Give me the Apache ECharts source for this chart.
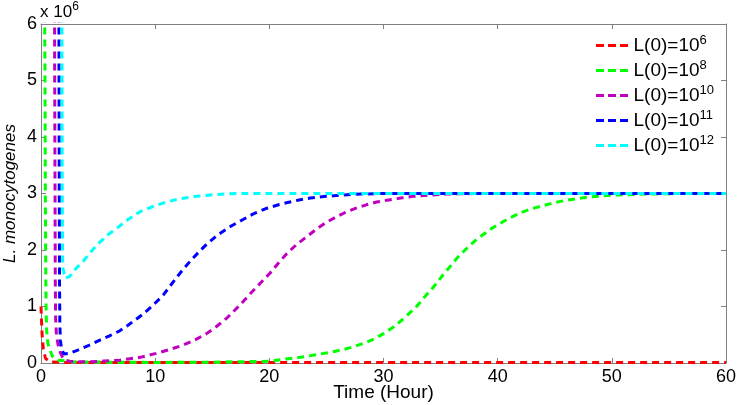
<!DOCTYPE html>
<html>
<head>
<meta charset="utf-8">
<script src="https://cdn.jsdelivr.net/npm/echarts@6/dist/echarts.min.js"></script>
<style>
  html, body { margin: 0; padding: 0; background: #fff; }
  #chart { width: 738px; height: 405px; }
</style>
</head>
<body>
<div id="chart"></div>
<script>
// values in units of 10^6, time in hours
const xTicks = [0, 10, 20, 30, 40, 50, 60]
const yTicks = [0, 1, 2, 3, 4, 5, 6]
const exponents = ['6', '8', '10', '11', '12']
const colors = ['#ff0000', '#00ff00', '#bf00bf', '#0000ff', '#00ffff']

// curves start far above the top of the axis (L(0) is 10^6..10^12), so only the part below 6 shows
const red = [[0, 1.0], [0.05, 0.72], [0.1, 0.5], [0.2, 0.25], [0.4, 0.08], [0.8, 0.02], [2, 0.01],
  [10, 0.01], [20, 0.01], [30, 0.01], [40, 0.01], [50, 0.01], [60, 0.01]]

const green = [[0.3, 7], [0.35, 5], [0.38, 3], [0.42, 1.5], [0.45, 0.9], [0.5, 0.55],
  [0.6, 0.35], [0.8, 0.22], [1, 0.12], [1.5, 0.05], [3, 0.02], [10, 0.01], [15, 0.015], [20, 0.03],
  [21.4, 0.07], [22.7, 0.1], [24.2, 0.15], [25.6, 0.2], [26.5, 0.24], [27.4, 0.29], [28.3, 0.35],
  [29.1, 0.42], [30, 0.52], [30.9, 0.64], [31.9, 0.81], [32.9, 1.0], [33.6, 1.17], [34.4, 1.35],
  [35.1, 1.53], [35.8, 1.7], [36.5, 1.87], [37.3, 2.03], [38, 2.16], [38.7, 2.27], [39.4, 2.37],
  [40.2, 2.47], [41, 2.56], [41.9, 2.65], [42.8, 2.72], [43.7, 2.77], [44.8, 2.83], [46, 2.88],
  [47, 2.91], [48, 2.94], [50, 2.97], [53, 2.99], [56, 3.0], [60, 3.0]]

const magenta = [[1.18, 7], [1.2, 5], [1.23, 3], [1.25, 1.5], [1.28, 0.8], [1.35, 0.5],
  [1.5, 0.32], [1.7, 0.18], [2, 0.06], [2.5, 0.03], [3.3, 0.02], [4.3, 0.02], [5.5, 0.035],
  [6.9, 0.05], [7.8, 0.075], [8.7, 0.1], [10.1, 0.17], [11.3, 0.24], [12.5, 0.32], [13.5, 0.41],
  [14.5, 0.52], [15.4, 0.65], [16.3, 0.8], [17.4, 1.02], [18.3, 1.22], [19.2, 1.41], [20.1, 1.6],
  [20.8, 1.77], [21.5, 1.93], [22.4, 2.1], [23.3, 2.24], [24.2, 2.38], [25, 2.49], [25.9, 2.59],
  [26.8, 2.68], [27.6, 2.74], [28.5, 2.8], [29.4, 2.85], [30.3, 2.88], [31.5, 2.92], [32.6, 2.95],
  [34, 2.97], [35.5, 2.99], [38, 3.0], [60, 3.0]]

const blue = [[1.56, 7], [1.58, 5], [1.6, 3], [1.62, 1.5], [1.65, 0.7], [1.7, 0.4],
  [1.8, 0.25], [2.0, 0.16], [2.5, 0.17], [3, 0.21], [3.7, 0.27], [4.5, 0.34], [5.2, 0.41],
  [6, 0.48], [6.9, 0.57], [7.5, 0.65], [8.1, 0.74], [8.9, 0.86], [9.7, 1.0], [10.7, 1.2],
  [11.3, 1.36], [11.9, 1.52], [12.5, 1.67], [13.1, 1.81], [13.8, 1.96], [14.5, 2.1], [15.2, 2.22],
  [15.8, 2.31], [16.7, 2.43], [17.7, 2.54], [18.7, 2.65], [19.8, 2.74], [20.8, 2.8], [21.8, 2.85],
  [22.7, 2.89], [23.6, 2.92], [25, 2.95], [26.2, 2.97], [28, 2.99], [30, 3.0], [60, 3.0]]

const cyan = [[1.82, 7], [1.84, 5], [1.86, 3], [1.9, 1.7], [2.1, 1.5], [2.5, 1.53],
  [3.1, 1.68], [3.7, 1.8], [4.3, 1.95], [4.9, 2.09], [5.8, 2.26], [6.8, 2.41], [7.7, 2.55],
  [8.7, 2.68], [9.8, 2.77], [11, 2.85], [12.2, 2.91], [13.6, 2.95], [15.2, 2.98], [17.1, 3.0], [60, 3.0]]

const allData = [red, green, magenta, blue, cyan]

const font = 'Liberation Sans, Arial, sans-serif'
const axisGray = '#808080'

let chart = echarts.init(document.getElementById('chart'))

const baseAxis = {
  axisLine: { show: true, onZero: false, lineStyle: { color: axisGray, width: 1 } },
  axisTick: { show: true, inside: true, length: 5, lineStyle: { color: axisGray } },
  splitLine: { show: false }
}

chart.setOption({
  animation: false,
  grid: { left: 41, right: 12, top: 24, bottom: 42, containLabel: false, outerBoundsMode: 'none' },
  legend: {
    orient: 'vertical',
    left: 596,
    top: 34,
    padding: 0,
    itemWidth: 33,
    itemHeight: 3,
    itemGap: 4,
    icon: 'path://M0,0h8v3h-8z M12,0h8v3h-8z M24,0h8v3h-8z',
    data: exponents.map(n => 'L(0)=10' + n),
    formatter: function(name) {
      return 'L(0)=10{sup|' + name.slice(7) + '}'
    },
    textStyle: {
      fontFamily: font,
      fontSize: 19,
      color: '#000',
      rich: {
        sup: { fontFamily: font, fontSize: 13, color: '#000', padding: [0, 0, 10, 0] }
      }
    }
  },
  graphic: [{
    type: 'text',
    left: 40,
    top: 1,
    style: {
      text: 'x 10{s|6}',
      font: '17px ' + font,
      fill: '#000',
      rich: { s: { fontSize: 12, fontFamily: font, padding: [0, 0, 10, 0] } }
    }
  }],
  xAxis: [
    Object.assign({}, baseAxis, {
      type: 'value',
      min: 0, max: 60, interval: 10,
      position: 'bottom',
      name: 'Time (Hour)',
      nameLocation: 'middle',
      nameGap: 20,
      nameMoveOverlap: false,
      nameTextStyle: { fontFamily: font, fontSize: 19, color: '#000' },
      axisLabel: {
        fontFamily: font, fontSize: 18, color: '#000', margin: 5,
        formatter: v => xTicks.includes(v) ? String(v) : ''
      }
    }),
    Object.assign({}, baseAxis, {
      type: 'value', min: 0, max: 60, interval: 10, position: 'top',
      axisLabel: { show: false }
    })
  ],
  yAxis: [
    Object.assign({}, baseAxis, {
      type: 'value',
      min: 0, max: 6, interval: 1,
      position: 'left',
      name: 'L. monocytogenes',
      nameLocation: 'middle',
      nameGap: 22,
      nameMoveOverlap: false,
      nameTextStyle: { fontFamily: font, fontSize: 17, fontStyle: 'italic', color: '#000' },
      axisLabel: {
        fontFamily: font, fontSize: 18, color: '#000', margin: 4,
        formatter: v => yTicks.includes(v) ? String(v) : ''
      }
    }),
    Object.assign({}, baseAxis, {
      type: 'value', min: 0, max: 6, interval: 1, position: 'right',
      axisLabel: { show: false }
    })
  ],
  series: allData.map((d, i) => ({
    name: 'L(0)=10' + exponents[i],
    type: 'line',
    data: d,
    showSymbol: false,
    symbol: 'none',
    clip: true,
    color: colors[i],
    lineStyle: { color: colors[i], width: 3, type: [7, 5] }
  }))
})
</script>
</body>
</html>
